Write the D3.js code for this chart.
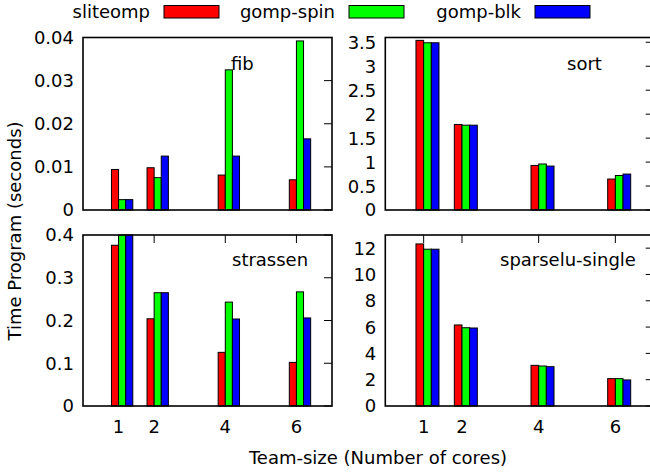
<!DOCTYPE html>
<html>
<head>
<meta charset="utf-8">
<script src="https://cdn.jsdelivr.net/npm/d3@7"></script>
<style>
  body { margin: 0; background: #fff; }
  text { font-family: "DejaVu Sans", sans-serif; font-size: 18px; fill: #000; }
</style>
</head>
<body>
<svg id="chart" width="650" height="475"></svg>
<script>
// Team sizes on the x axis
const cores = [1, 2, 4, 6];

// Runtime libraries compared
const seriesNames = ["sliteomp", "gomp-spin", "gomp-blk"];
const seriesColors = ["#ff0000", "#00ff00", "#0000ff"];

// Execution times (seconds) per benchmark, one array per runtime
const fibSliteomp = [0.0094, 0.0098, 0.0081, 0.0070];
const fibGompSpin = [0.0024, 0.0075, 0.0325, 0.0392];
const fibGompBlk = [0.0024, 0.0125, 0.0125, 0.0165];

const sortSliteomp = [3.54, 1.785, 0.93, 0.646];
const sortGompSpin = [3.49, 1.77, 0.96, 0.72];
const sortGompBlk = [3.49, 1.77, 0.917, 0.75];

const strassenSliteomp = [0.376, 0.204, 0.1255, 0.102];
const strassenGompSpin = [0.40, 0.265, 0.243, 0.267];
const strassenGompBlk = [0.40, 0.265, 0.2035, 0.206];

const sparseluSliteomp = [12.32, 6.16, 3.09, 2.08];
const sparseluGompSpin = [11.92, 5.95, 3.04, 2.08];
const sparseluGompBlk = [11.92, 5.93, 2.99, 1.98];

// y tick values per panel
const fibTicks = [0, 0.01, 0.02, 0.03, 0.04];
const sortTicks = [0, 0.5, 1, 1.5, 2, 2.5, 3, 3.5];
const strassenTicks = [0, 0.1, 0.2, 0.3, 0.4];
const sparseluTicks = [0, 2, 4, 6, 8, 10, 12];

const svg = d3.select("#chart");

const panels = [
  { name: "fib", values: [fibSliteomp, fibGompSpin, fibGompBlk], yMax: 0.04, ticks: fibTicks,
    fmt: d => d === 0 ? "0" : d3.format(".2f")(d),
    box: { x0: 83, x1: 332, y0: 37.5, y1: 210 }, label: { x: 231, y: 70 }, xLabels: false },
  { name: "sort", values: [sortSliteomp, sortGompSpin, sortGompBlk], yMax: 3.6, ticks: sortTicks,
    fmt: d => String(d),
    box: { x0: 385.3, x1: 653.7, y0: 37.5, y1: 210 }, label: { x: 567, y: 70 }, xLabels: false },
  { name: "strassen", values: [strassenSliteomp, strassenGompSpin, strassenGompBlk], yMax: 0.4, ticks: strassenTicks,
    fmt: d => d === 0 ? "0" : d3.format(".1f")(d),
    box: { x0: 83, x1: 332, y0: 235, y1: 406 }, label: { x: 232, y: 266 }, xLabels: true },
  { name: "sparselu-single", values: [sparseluSliteomp, sparseluGompSpin, sparseluGompBlk], yMax: 13, ticks: sparseluTicks,
    fmt: d => String(d),
    box: { x0: 385.3, x1: 653.7, y0: 235, y1: 406 }, label: { x: 500, y: 266 }, xLabels: true }
];

const barWidth = 0.2;
const tickLen = 8;

panels.forEach(p => {
  const b = p.box;
  const x = d3.scaleLinear().domain([0, 7]).range([b.x0, b.x1]);
  const y = d3.scaleLinear().domain([0, p.yMax]).range([b.y1, b.y0]).clamp(true);
  const g = svg.append("g");

  // y tick labels on the left
  g.selectAll("text.ytl").data(p.ticks).join("text")
    .attr("class", "ytl")
    .attr("x", b.x0 - 9)
    .attr("y", d => y(d))
    .attr("dy", "0.36em")
    .attr("text-anchor", "end")
    .text(p.fmt);

  // y ticks on the right edge, pointing inward
  g.selectAll("line.ytk").data(p.ticks).join("line")
    .attr("class", "ytk")
    .attr("x1", b.x1 - tickLen).attr("x2", b.x1)
    .attr("y1", d => y(d)).attr("y2", d => y(d))
    .attr("stroke", "#000").attr("stroke-width", 1);

  if (p.xLabels) {
    // x ticks on the top and bottom edges
    g.selectAll("line.xtt").data(cores).join("line")
      .attr("class", "xtt")
      .attr("x1", d => x(d)).attr("x2", d => x(d))
      .attr("y1", b.y0).attr("y2", b.y0 + tickLen)
      .attr("stroke", "#000").attr("stroke-width", 1);
    g.selectAll("line.xtb").data(cores).join("line")
      .attr("class", "xtb")
      .attr("x1", d => x(d)).attr("x2", d => x(d))
      .attr("y1", b.y1).attr("y2", b.y1 - tickLen)
      .attr("stroke", "#000").attr("stroke-width", 1);
    g.selectAll("text.xtl").data(cores).join("text")
      .attr("class", "xtl")
      .attr("x", d => x(d))
      .attr("y", 433)
      .attr("text-anchor", "middle")
      .text(d => d);
  }

  // grouped bars: one bar per runtime, side by side from each team size
  p.values.forEach((vals, si) => {
    g.selectAll("rect.s" + si).data(cores.map((c, i) => ({ c, v: vals[i] }))).join("rect")
      .attr("class", "s" + si)
      .attr("x", d => x(d.c - barWidth + barWidth * si))
      .attr("width", d => x(d.c + barWidth * si) - x(d.c - barWidth + barWidth * si))
      .attr("y", d => y(d.v))
      .attr("height", d => y(0) - y(d.v))
      .attr("fill", seriesColors[si])
      .attr("stroke", "#000")
      .attr("stroke-width", 1);
  });

  // frame
  g.append("rect")
    .attr("x", b.x0).attr("y", b.y0)
    .attr("width", b.x1 - b.x0).attr("height", b.y1 - b.y0)
    .attr("fill", "none").attr("stroke", "#000").attr("stroke-width", 1.6);

  // benchmark name
  g.append("text")
    .attr("x", p.label.x).attr("y", p.label.y)
    .text(p.name);
});

// legend across the top
const legendTextEnd = [150, 335, 521];
const legend = svg.append("g");
seriesNames.forEach((name, i) => {
  legend.append("text")
    .attr("x", legendTextEnd[i]).attr("y", 12)
    .attr("dy", "0.36em")
    .attr("text-anchor", "end")
    .text(name);
  legend.append("rect")
    .attr("x", legendTextEnd[i] + 14).attr("y", 5.5)
    .attr("width", 55).attr("height", 12.5)
    .attr("fill", seriesColors[i])
    .attr("stroke", "#000").attr("stroke-width", 1);
});

// axis titles
svg.append("text")
  .attr("transform", "translate(15,231) rotate(-90)")
  .attr("text-anchor", "middle")
  .attr("dy", "0.36em")
  .text("Time Program (seconds)");

svg.append("text")
  .attr("x", 378).attr("y", 458)
  .attr("text-anchor", "middle")
  .attr("dy", "0.36em")
  .text("Team-size (Number of cores)");
</script>
</body>
</html>
